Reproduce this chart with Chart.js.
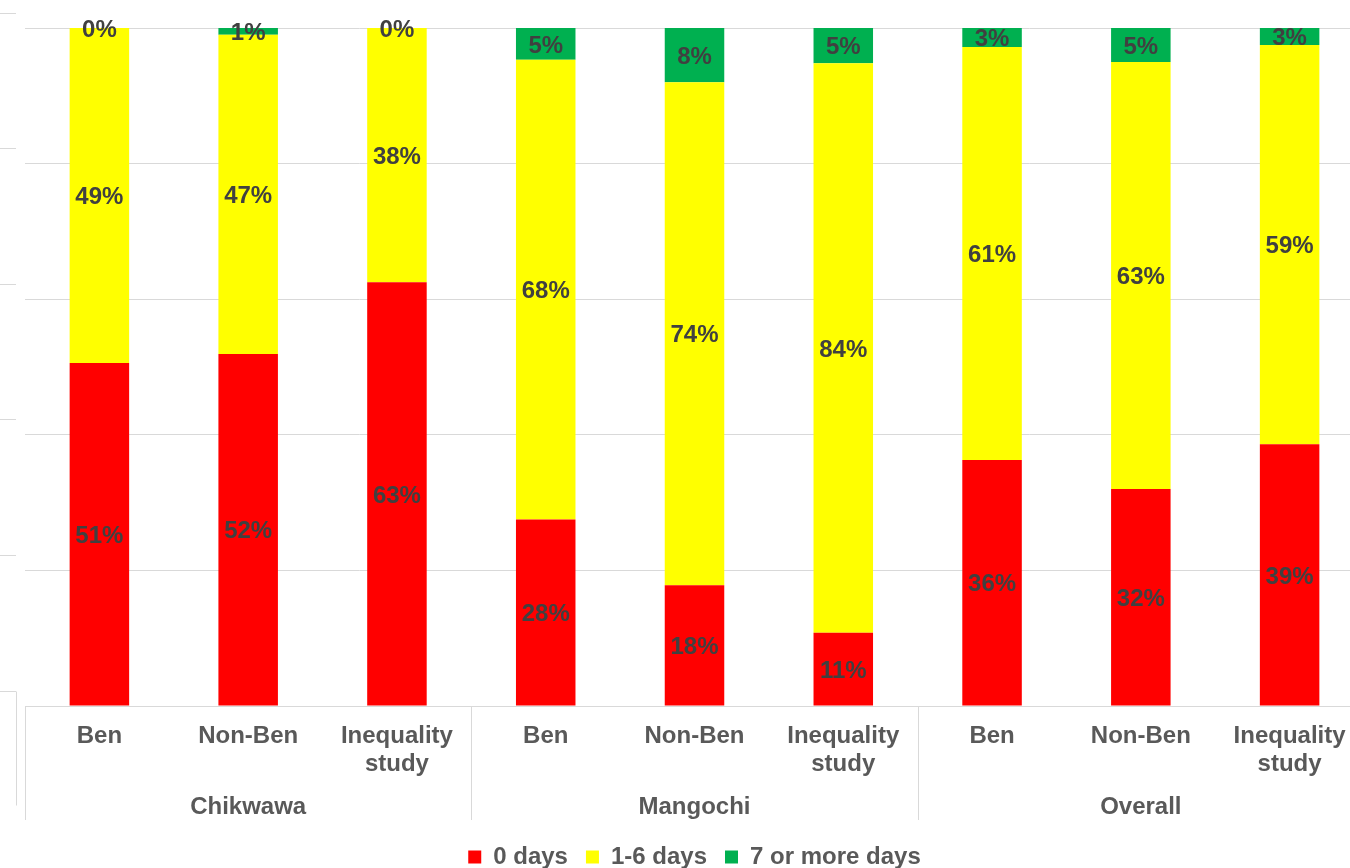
<!DOCTYPE html>
<html>
<head>
<meta charset="utf-8">
<script src="https://cdn.jsdelivr.net/npm/chart.js@4/dist/chart.umd.min.js"></script>
<style>
  html, body { margin: 0; padding: 0; background: #ffffff; overflow: hidden; }
  #wrap { position: absolute; left: 0; top: 0; width: 1365px; height: 868px; }
</style>
</head>
<body>
<div id="wrap"><canvas id="chart" width="1365" height="868"></canvas></div>
<script>
// Categories: sample within each district, then the district groups
const categories = ['Ben', 'Non-Ben', ['Inequality', 'study'],
                    'Ben', 'Non-Ben', ['Inequality', 'study'],
                    'Ben', 'Non-Ben', ['Inequality', 'study']];
const groups = ['Chikwawa', 'Mangochi', 'Overall'];
const groupSize = 3;

// Share of respondents (%) by number of days
const seriesNames = ['0 days', '1-6 days', '7 or more days'];
const zeroDays   = [50.6, 51.9, 62.5, 27.5, 17.8, 10.8, 36.3, 32.0, 38.6];
const oneToSix   = [49.4, 47.1, 37.5, 67.8, 74.2, 84.0, 60.9, 63.0, 58.9];
const sevenPlus  = [0.0,  1.0,  0.0,  4.7,  8.0,  5.2,  2.8,  5.0,  2.5];

const yTicks = [0, 20, 40, 60, 80, 100];

const FONT = '"Liberation Sans", Arial, sans-serif';
const GRID = '#d9d9d9';
const AXIS_TEXT = '#595959';
const LABEL_TEXT = '#404040';

// Percent labels centred on each stacked segment
const segmentLabels = {
  id: 'segmentLabels',
  afterDatasetsDraw(chart) {
    const ctx = chart.ctx;
    ctx.save();
    ctx.font = 'bold 24px ' + FONT;
    ctx.fillStyle = LABEL_TEXT;
    ctx.textAlign = 'center';
    ctx.textBaseline = 'middle';
    chart.data.datasets.forEach((ds, di) => {
      const meta = chart.getDatasetMeta(di);
      meta.data.forEach((bar, i) => {
        const v = ds.data[i];
        const cy = (bar.y + bar.base) / 2;
        ctx.fillText(Math.round(v) + '%', bar.x, cy + 2);
      });
    });
    ctx.restore();
  }
};

// Group captions and the vertical dividers of the two-level category axis
const groupAxis = {
  id: 'groupAxis',
  afterDraw(chart) {
    const ctx = chart.ctx;
    const x = chart.scales.x;
    const area = chart.chartArea;
    const step = (area.right - area.left) / categories.length;
    ctx.save();
    ctx.strokeStyle = GRID;
    ctx.lineWidth = 1;
    for (let g = 0; g <= groups.length; g++) {
      const px = Math.round(area.left + g * groupSize * step) + 0.5;
      ctx.beginPath();
      ctx.moveTo(px, area.bottom);
      ctx.lineTo(px, area.bottom + 114);
      ctx.stroke();
    }
    ctx.font = 'bold 24px ' + FONT;
    ctx.fillStyle = AXIS_TEXT;
    ctx.textAlign = 'center';
    ctx.textBaseline = 'middle';
    groups.forEach((name, g) => {
      const mid = x.getPixelForValue(g * groupSize + (groupSize - 1) / 2);
      ctx.fillText(name, mid, area.bottom + 101);
    });
    ctx.restore();
  }
};

// Edge of the neighbouring panel on the far left
const adjacentPanelEdge = {
  id: 'adjacentPanelEdge',
  afterDraw(chart) {
    const ctx = chart.ctx;
    const y = chart.scales.y;
    const shift = -15.5;
    ctx.save();
    ctx.strokeStyle = GRID;
    ctx.lineWidth = 1;
    yTicks.forEach(t => {
      const py = Math.round(y.getPixelForValue(t) + shift) + 0.5;
      ctx.beginPath();
      ctx.moveTo(0, py);
      ctx.lineTo(16, py);
      ctx.stroke();
    });
    const base = Math.round(y.getPixelForValue(0) + shift) + 0.5;
    ctx.beginPath();
    ctx.moveTo(16.5, base);
    ctx.lineTo(16.5, base + 114);
    ctx.stroke();
    ctx.restore();
  }
};

new Chart(document.getElementById('chart'), {
  type: 'bar',
  data: {
    labels: categories,
    datasets: [
      { label: seriesNames[0], data: zeroDays,  backgroundColor: '#ff0000' },
      { label: seriesNames[1], data: oneToSix,  backgroundColor: '#ffff00' },
      { label: seriesNames[2], data: sevenPlus, backgroundColor: '#00b050' }
    ]
  },
  options: {
    responsive: false,
    animation: false,
    layout: { padding: { top: 28, left: 25, right: 1, bottom: 0 } },
    datasets: { bar: { categoryPercentage: 0.8, barPercentage: 0.5, borderWidth: 0 } },
    scales: {
      x: {
        stacked: true,
        grid: { display: false },
        border: { display: true, color: GRID, width: 1 },
        ticks: {
          color: AXIS_TEXT,
          font: { family: FONT, size: 24, weight: 'bold', lineHeight: 28 / 24 },
          padding: 8,
          maxRotation: 0,
          autoSkip: false
        },
        afterFit(scale) { scale.height = 121; }
      },
      y: {
        stacked: true,
        min: 0,
        max: 100,
        afterBuildTicks(scale) { scale.ticks = yTicks.map(v => ({ value: v })); },
        grid: { color: GRID, lineWidth: 1, drawTicks: false },
        border: { display: false },
        ticks: { display: false }
      }
    },
    plugins: {
      tooltip: { enabled: false },
      legend: {
        position: 'bottom',
        maxHeight: 41,
        labels: {
          color: AXIS_TEXT,
          font: { family: FONT, size: 24, weight: 'bold' },
          boxWidth: 13,
          boxHeight: 13,
          padding: 18
        }
      }
    }
  },
  plugins: [segmentLabels, groupAxis, adjacentPanelEdge]
});
</script>
</body>
</html>
